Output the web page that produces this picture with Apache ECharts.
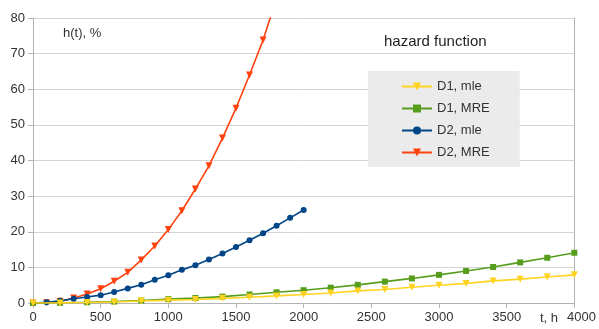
<!DOCTYPE html>
<html>
<head>
<meta charset="utf-8">
<script src="https://cdn.jsdelivr.net/npm/echarts@6/dist/echarts.min.js"></script>
<style>
html,body{margin:0;padding:0;background:#fff;}
#chart{width:599px;height:329px;}
</style>
</head>
<body>
<div id="chart"></div>
<script>
// Hazard function estimates h(t), % over operating time t, h
const tD1 = [0, 200, 400, 600, 800, 1000, 1200, 1400, 1600, 1800, 2000, 2200, 2400, 2600, 2800, 3000, 3200, 3400, 3600, 3800, 4000];
const d1Mle = [0, 0.03, 0.12, 0.3, 0.55, 0.8, 1.0, 1.3, 1.6, 2.0, 2.4, 2.8, 3.4, 3.8, 4.4, 5.0, 5.5, 6.2, 6.7, 7.3, 7.9];
const d1Mre = [0, 0.05, 0.2, 0.4, 0.7, 1.1, 1.4, 1.8, 2.4, 3.0, 3.6, 4.3, 5.1, 6.0, 6.9, 7.9, 9.0, 10.1, 11.4, 12.7, 14.1];

const tD2 = [0, 100, 200, 300, 400, 500, 600, 700, 800, 900, 1000, 1100, 1200, 1300, 1400, 1500, 1600, 1700, 1800, 1900, 2000];
const d2Mle = [0, 0.2, 0.6, 1.2, 1.7, 2.2, 3.1, 4.1, 5.1, 6.5, 7.8, 9.3, 10.6, 12.2, 13.9, 15.7, 17.6, 19.6, 21.7, 23.9, 26.1];
const d2Mre = [0, 0.1, 0.5, 1.4, 2.5, 4.0, 6.1, 8.6, 12.1, 16.0, 20.6, 25.9, 32.0, 38.5, 46.3, 54.7, 64.0, 73.8, 85.5, 98.0, 111.5];

const seriesNames = ['D1, mle', 'D1, MRE', 'D2, mle', 'D2, MRE'];
const xTicks = {min: 0, max: 4000, interval: 500};
const yTicks = {min: 0, max: 80, interval: 10};

const font = 'Liberation Sans, Arial, sans-serif';
const pairs = (xs, ys) => xs.map((x, i) => [x, ys[i]]);

function lineSeries(name, data, color, symbol, size, rotate, z) {
  return {
    name: name,
    type: 'line',
    data: data,
    clip: true,
    smooth: false,
    z: z,
    symbol: symbol,
    symbolSize: size,
    symbolRotate: rotate || 0,
    showAllSymbol: true,
    itemStyle: {color: color},
    lineStyle: {color: color, width: 1.6},
    emphasis: {disabled: true}
  };
}

const chart = echarts.init(document.getElementById('chart'), null, {renderer: 'canvas'});
chart.setOption({
  animation: false,
  backgroundColor: '#ffffff',
  grid: {left: 33, right: 15, top: 18, bottom: 26, containLabel: false},
  xAxis: {
    type: 'value',
    min: xTicks.min, max: xTicks.max, interval: xTicks.interval,
    axisLine: {show: true, onZero: false, lineStyle: {color: '#b3b3b3', width: 1}},
    axisTick: {show: true, length: 5, lineStyle: {color: '#b3b3b3'}},
    axisLabel: {color: '#333', fontFamily: font, fontSize: 13, margin: 8,
      formatter: v => (v === 4000 ? '    ' : '') + v},
    splitLine: {show: false}
  },
  yAxis: [{
    type: 'value',
    min: yTicks.min, max: yTicks.max, interval: yTicks.interval,
    axisLine: {show: true, lineStyle: {color: '#b3b3b3', width: 1}},
    axisTick: {show: true, length: 5, lineStyle: {color: '#b3b3b3'}},
    axisLabel: {color: '#333', fontFamily: font, fontSize: 13, margin: 8},
    splitLine: {show: true, lineStyle: {color: '#d4d4d4', width: 1}}
  }, {
    // right-hand frame edge of the plot area
    type: 'value', position: 'right',
    min: yTicks.min, max: yTicks.max, interval: yTicks.interval,
    axisLine: {show: true, lineStyle: {color: '#b3b3b3', width: 1}},
    axisTick: {show: false}, axisLabel: {show: false}, splitLine: {show: false}
  }],
  legend: {
    orient: 'vertical',
    left: 368, top: 71,
    padding: [9, 30, 8, 33],
    itemGap: 9,
    itemWidth: 30, itemHeight: 10,
    backgroundColor: '#ebebeb',
    textStyle: {color: '#333', fontFamily: font, fontSize: 13},
    data: seriesNames
  },
  graphic: [
    {type: 'text', left: 63, top: 27, style: {text: 'h(t), %', fill: '#333', font: '13px ' + font}},
    {type: 'text', left: 384, top: 34, style: {text: 'hazard function', fill: '#222', font: '15px ' + font}},
    {type: 'text', left: 540, top: 312, style: {text: 't, h', fill: '#333', font: '13px ' + font}}
  ],
  // later-listed series sit underneath: D1 mle is drawn on top
  series: [
    lineSeries(seriesNames[0], pairs(tD1, d1Mle), '#ffd320', 'triangle', 7, 180, 5),
    lineSeries(seriesNames[1], pairs(tD1, d1Mre), '#579d1c', 'rect', 6, 0, 4),
    lineSeries(seriesNames[2], pairs(tD2, d2Mle), '#004586', 'circle', 6, 0, 3),
    lineSeries(seriesNames[3], pairs(tD2, d2Mre), '#ff420e', 'triangle', 7, 180, 2)
  ]
});
</script>
</body>
</html>
